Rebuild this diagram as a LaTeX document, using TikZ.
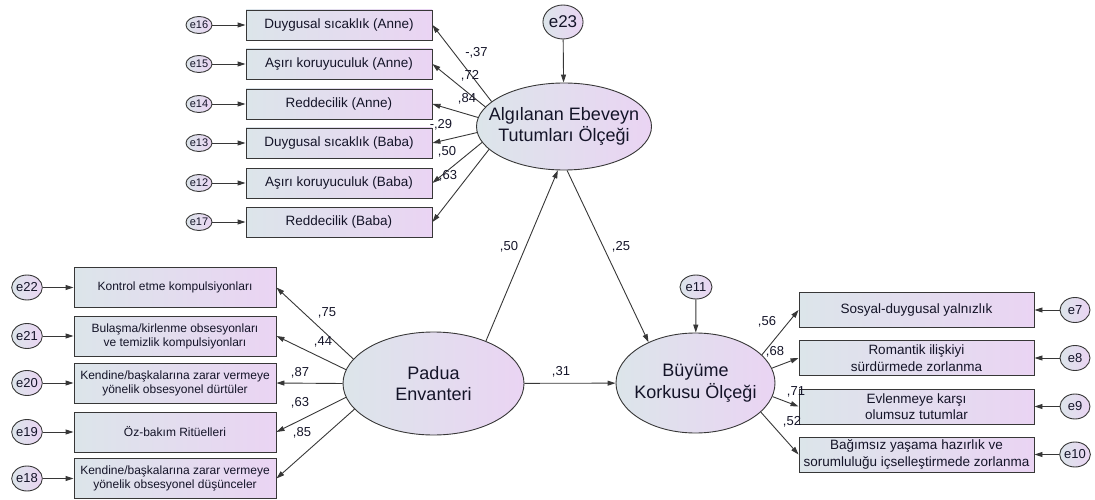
\documentclass[tikz,border=0pt]{standalone}
\usepackage{fontspec}
\setmainfont{Liberation Sans}
\usepackage{tikz}
\usetikzlibrary{
	arrows.meta,
	shapes,
}
\definecolor{fillL}{RGB}{220,229,234}
\definecolor{fillR}{RGB}{234,212,243}
\definecolor{edgegray}{RGB}{55,55,55}
\definecolor{ink}{RGB}{20,20,40}
\tikzset{box/.style={draw=edgegray,rectangle,inner sep=0pt,left color=fillL,right color=fillR,text=ink,align=center,line width=0.9pt,}}
\tikzset{top box/.style={box,minimum width=186pt,minimum height=30pt,font=\fontsize{13.5}{15}\selectfont,}}
\tikzset{left box/.style={box,minimum width=202pt,minimum height=40pt,font=\fontsize{12}{14}\selectfont,}}
\tikzset{right box/.style={box,minimum width=235pt,minimum height=35pt,font=\fontsize{13.5}{16.5}\selectfont,}}
\tikzset{latent/.style={box,ellipse,}}
\tikzset{latent text/.style={text=ink,align=center,inner sep=0pt,font=\fontsize{18}{21.5}\selectfont,}}
\tikzset{err/.style={box,ellipse,}}
\tikzset{small err/.style={err,minimum width=26pt,minimum height=17pt,font=\fontsize{11}{12}\selectfont,}}
\tikzset{side err/.style={err,minimum width=30pt,minimum height=25pt,font=\fontsize{13}{14}\selectfont,}}
\tikzset{coef/.style={text=ink,inner sep=0pt,font=\fontsize{13}{14}\selectfont,}}
\tikzset{link/.style={draw=edgegray,line width=0.9pt,->,}}
\tikzset{
	>={Triangle[length=8pt,width=5pt]},
}

\begin{document}
\begin{tikzpicture}[x=1pt,y=-1pt]
\useasboundingbox (0,0) rectangle (1095,500);

\node[top box](a1) at(339,25) {Duygusal sıcaklık (Anne)};
\node[top box](a2) at(339,64) {Aşırı koruyuculuk (Anne)};
\node[top box](a3) at(339,104) {Reddecilik (Anne)};
\node[top box](a4) at(339,143) {Duygusal sıcaklık (Baba)};
\node[top box](a5) at(339,183) {Aşırı koruyuculuk (Baba)};
\node[top box](a6) at(339,222) {Reddecilik (Baba)};

\node[small err](e16) at(199,25) {e16};
\node[small err](e15) at(199,64) {e15};
\node[small err](e14) at(199,104) {e14};
\node[small err](e13) at(199,143) {e13};
\node[small err](e12) at(199,183) {e12};
\node[small err](e17) at(199,222) {e17};

\node[left box](p1) at(175,287.5) {Kontrol etme kompulsiyonları};
\node[left box](p2) at(175,336) {Bulaşma/kirlenme obsesyonları\\ ve temizlik kompulsiyonları};
\node[left box](p3) at(175,383) {Kendine/başkalarına zarar vermeye\\yönelik obsesyonel dürtüler};
\node[left box](p4) at(175,432) {Öz-bakım Ritüelleri};
\node[left box](p5) at(175,478.5) {Kendine/başkalarına zarar vermeye\\yönelik obsesyonel düşünceler};

\node[side err](e22) at(27,287.5) {e22};
\node[side err](e21) at(27,336) {e21};
\node[side err](e20) at(27,383) {e20};
\node[side err](e19) at(27,432) {e19};
\node[side err](e18) at(27,478.5) {e18};

\node[right box](b1) at(916.5,310) {Sosyal-duygusal yalnızlık};
\node[right box](b2) at(916.5,358) {Romantik ilişkiyi\\sürdürmede zorlanma};
\node[right box](b3) at(916.5,406.5) {Evlenmeye karşı\\olumsuz tutumlar};
\node[right box](b4) at(916.5,454.5) {Bağımsız yaşama hazırlık ve\\sorumluluğu içselleştirmede zorlanma};

\node[side err](e7) at(1075,310) {e7};
\node[side err](e8) at(1075,358) {e8};
\node[side err](e9) at(1075,406.5) {e9};
\node[side err](e10) at(1075,454.5) {e10};

\node[latent,minimum width=175pt,minimum height=87pt](ebev) at(564,126.5) {};
\node[latent text](ebevT) at(ebev) {Algılanan Ebeveyn\\Tutumları Ölçeği};
\node[latent,minimum width=181pt,minimum height=103pt](padua) at(433.5,383.5) {};
\node[latent text](paduaT) at(padua) {Padua\\Envanteri};
\node[latent,minimum width=159pt,minimum height=100pt](buy) at(695.5,383) {};
\node[latent text](buyT) at(buy) {Büyüme\\Korkusu Ölçeği};

\node[err,minimum width=40pt,minimum height=34pt,font=\fontsize{17}{18}\selectfont](e23) at(563,22) {e23};
\node[err,minimum width=32pt,minimum height=24pt,font=\fontsize{13}{14}\selectfont](e11) at(696,287) {e11};

\draw[link] (e16) -- (a1);
\draw[link] (e15) -- (a2);
\draw[link] (e14) -- (a3);
\draw[link] (e13) -- (a4);
\draw[link] (e12) -- (a5);
\draw[link] (e17) -- (a6);
\draw[link] (e22) -- (p1);
\draw[link] (e21) -- (p2);
\draw[link] (e20) -- (p3);
\draw[link] (e19) -- (p4);
\draw[link] (e18) -- (p5);
\draw[link] (e7) -- (b1);
\draw[link] (e8) -- (b2);
\draw[link] (e9) -- (b3);
\draw[link] (e10) -- (b4);
\draw[link] (e23) -- (ebev);
\draw[link] (e11) -- (buy);

\draw[link] (ebev.161) -- (a1.east);
\draw[link] (ebev.166) -- (a2.east);
\draw[link] (ebev.174) -- (a3.east);
\draw[link] (ebev.-176) -- (a4.east);
\draw[link] (ebev.-169) -- (a5.east);
\draw[link] (ebev.-163) -- (a6.east);

\draw[link] (padua.163) -- (p1.east);
\draw[link] (padua.171) -- (p2.east);
\draw[link] (padua.180) -- (p3.east);
\draw[link] (padua.-171) -- (p4.east);
\draw[link] (padua.-162) -- (p5.east);

\draw[link] (buy.23) -- (b1.west);
\draw[link] (buy.11) -- (b2.west);
\draw[link] (buy.-10) -- (b3.west);
\draw[link] (buy.-24) -- (b4.west);

\draw[link] (padua.39) -- (ebev.-98);
\draw[link] (ebev.-86) -- (buy.139);
\draw[link] (padua) -- (buy);

\node[coef](c1) at(476.5,53) {-,37};
\node[coef](c2) at(470,76) {,72};
\node[coef](c3) at(467,99) {,84};
\node[coef](c4) at(441,125) {-,29};
\node[coef](c5) at(447,152) {,50};
\node[coef](c6) at(448,176) {,63};

\node[coef](c7) at(327,313) {,75};
\node[coef](c8) at(323,342) {,44};
\node[coef](c9) at(300,373) {,87};
\node[coef](c10) at(300,403) {,63};
\node[coef](c11) at(302,433) {,85};

\node[coef](c12) at(767,322) {,56};
\node[coef](c13) at(775,352) {,68};
\node[coef](c14) at(796,392) {,71};
\node[coef](c15) at(792,422) {,52};

\node[coef](c16) at(509,247) {,50};
\node[coef](c17) at(621,247) {,25};
\node[coef](c18) at(561,372) {,31};

\end{tikzpicture}
\end{document}
